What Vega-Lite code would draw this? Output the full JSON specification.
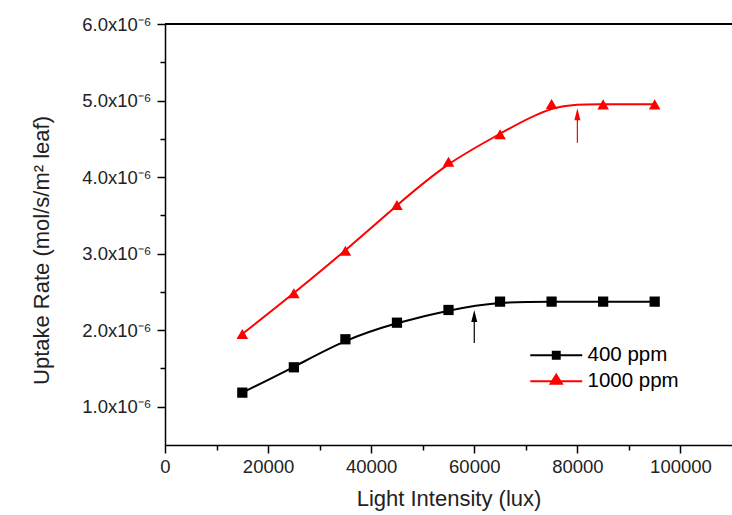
{
  "$schema": "https://vega.github.io/schema/vega-lite/v6.json",
  "width": 567,
  "height": 421,
  "autosize": {"type": "none"},
  "padding": {"left": 165, "top": 24, "right": 0, "bottom": 70},
  "background": "white",
  "config": {"view": {"stroke": null}, "font": "Liberation Sans"},
  "datasets": {
    "uptake": [
      {"light": 15000, "rate": 0.000001184, "series": "400 ppm"},
      {"light": 25000, "rate": 0.000001515, "series": "400 ppm"},
      {"light": 35000, "rate": 0.000001881, "series": "400 ppm"},
      {"light": 45000, "rate": 0.000002098, "series": "400 ppm"},
      {"light": 55000, "rate": 0.000002264, "series": "400 ppm"},
      {"light": 65000, "rate": 0.000002373, "series": "400 ppm"},
      {"light": 75000, "rate": 0.000002373, "series": "400 ppm"},
      {"light": 85000, "rate": 0.000002373, "series": "400 ppm"},
      {"light": 95000, "rate": 0.000002373, "series": "400 ppm"},
      {"light": 15000, "rate": 0.00000195, "series": "1000 ppm"},
      {"light": 25000, "rate": 0.000002482, "series": "1000 ppm"},
      {"light": 35000, "rate": 0.000003038, "series": "1000 ppm"},
      {"light": 45000, "rate": 0.000003636, "series": "1000 ppm"},
      {"light": 55000, "rate": 0.0000042, "series": "1000 ppm"},
      {"light": 65000, "rate": 0.00000456, "series": "1000 ppm"},
      {"light": 75000, "rate": 0.000004955, "series": "1000 ppm"},
      {"light": 85000, "rate": 0.00000495, "series": "1000 ppm"},
      {"light": 95000, "rate": 0.00000495, "series": "1000 ppm"}
    ],
    "arrows": [
      {"light": 60000, "tail": 0.000001833, "head": 0.000002186, "series": "400 ppm"},
      {"light": 80000, "tail": 0.000004449, "head": 0.00000482, "series": "1000 ppm"}
    ]
  },
  "layer": [
    {
      "data": {"name": "uptake"},
      "mark": {"type": "rule", "color": "black", "strokeWidth": 1.2},
      "encoding": {"y": {"datum": 0.000006, "type": "quantitative"}}
    },
    {
      "data": {"name": "uptake"},
      "mark": {"type": "line", "interpolate": "basis", "strokeWidth": 2},
      "encoding": {
        "x": {
          "field": "light", "type": "quantitative",
          "scale": {"domain": [0, 110000], "nice": false, "zero": false},
          "axis": {
            "values": [0, 10000, 20000, 30000, 40000, 50000, 60000, 70000, 80000, 90000, 100000],
            "labelExpr": "datum.value % 20000 == 0 ? datum.value : ''",
            "grid": false,
            "domainColor": "black",
            "domainWidth": 1.5,
            "tickColor": "black",
            "tickWidth": 1.5,
            "tickSize": {"condition": {"test": "datum.value % 20000 == 0", "value": 8}, "value": 5},
            "labelFontSize": 18.5,
            "labelColor": "#222",
            "labelPadding": 4,
            "labelFlush": false,
            "title": "Light Intensity (lux)",
            "titleFontSize": 22,
            "titleFontWeight": "normal",
            "titleColor": "#222",
            "titlePadding": 13
          }
        },
        "y": {
          "field": "rate", "type": "quantitative",
          "scale": {"domain": [0.0000005, 0.000006], "nice": false, "zero": false},
          "axis": {
            "values": [0.000001, 0.0000015, 0.000002, 0.0000025, 0.000003, 0.0000035, 0.000004, 0.0000045, 0.000005, 0.0000055, 0.000006],
            "labelExpr": "abs(datum.value*1e6 - round(datum.value*1e6)) < 0.01 ? format(datum.value*1e6, '.1f') + 'x10⁻⁶' : ''",
            "grid": false,
            "domainColor": "black",
            "domainWidth": 1.5,
            "tickColor": "black",
            "tickWidth": 1.5,
            "tickSize": {"condition": {"test": "abs(datum.value*1e6 - round(datum.value*1e6)) < 0.01", "value": 8}, "value": 5},
            "labelFontSize": 18.5,
            "labelColor": "#222",
            "labelPadding": 6,
            "labelFlush": false,
            "title": "Uptake Rate (mol/s/m² leaf)",
            "titleFontSize": 22,
            "titleFontWeight": "normal",
            "titleColor": "#222",
            "titlePadding": 28,
            "titleY": 226
          }
        },
        "color": {
          "field": "series", "type": "nominal",
          "scale": {"domain": ["400 ppm", "1000 ppm"], "range": ["black", "#ff0000"]},
          "legend": null
        }
      }
    },
    {
      "data": {"name": "uptake"},
      "mark": {"type": "point", "filled": true, "opacity": 1},
      "encoding": {
        "x": {"field": "light", "type": "quantitative"},
        "y": {"field": "rate", "type": "quantitative"},
        "color": {"field": "series", "type": "nominal", "legend": null},
        "shape": {
          "field": "series", "type": "nominal",
          "scale": {"domain": ["400 ppm", "1000 ppm"], "range": ["square", "triangle-up"]},
          "legend": null
        },
        "size": {
          "field": "series", "type": "nominal",
          "scale": {"domain": ["400 ppm", "1000 ppm"], "range": [105, 135]},
          "legend": null
        }
      }
    },
    {
      "data": {"name": "arrows"},
      "mark": {"type": "rule", "strokeWidth": 1.2},
      "encoding": {
        "x": {"field": "light", "type": "quantitative"},
        "y": {"field": "tail", "type": "quantitative"},
        "y2": {"field": "head"},
        "color": {"field": "series", "type": "nominal", "legend": null}
      }
    },
    {
      "data": {"name": "arrows"},
      "mark": {"type": "point", "shape": "M0,-1L0.5,1L-0.5,1Z", "filled": true, "opacity": 1, "size": 144},
      "encoding": {
        "x": {"field": "light", "type": "quantitative"},
        "y": {"field": "head", "type": "quantitative"},
        "color": {"field": "series", "type": "nominal", "legend": null}
      }
    },
    {
      "data": {"name": "uptake"},
      "transform": [{"filter": "datum.series == 'none'"}],
      "mark": {"type": "point", "shape": "M-3,0H3M-0.4,-0.4H0.4V0.4H-0.4Z", "filled": true, "fill": "black", "strokeWidth": 2, "opacity": 1, "size": 300},
      "encoding": {
        "x": {"field": "light", "type": "quantitative"},
        "y": {"field": "rate", "type": "quantitative"},
        "stroke": {
          "field": "series", "type": "nominal",
          "scale": {"domain": ["400 ppm"], "range": ["black"]},
          "legend": {
            "orient": "none",
            "legendX": 381,
            "legendY": 321,
            "title": null,
            "padding": 0,
            "symbolType": "M-3,0H3M-0.4,-0.4H0.4V0.4H-0.4Z",
            "symbolSize": 300,
            "symbolStrokeWidth": 2,
            "symbolOpacity": 1,
            "labelFontSize": 20.5,
            "labelColor": "black",
            "labelOffset": 21
          }
        }
      }
    },
    {
      "data": {"name": "uptake"},
      "transform": [{"filter": "datum.series == 'none'"}],
      "mark": {"type": "point", "shape": "M-3,0H3M0,-0.75L0.65,0.3L-0.65,0.3Z", "filled": true, "stroke": "#ff0000", "strokeWidth": 2, "opacity": 1, "size": 300},
      "encoding": {
        "x": {"field": "light", "type": "quantitative"},
        "y": {"field": "rate", "type": "quantitative"},
        "fill": {
          "field": "series", "type": "nominal",
          "scale": {"domain": ["1000 ppm"], "range": ["#ff0000"]},
          "legend": {
            "orient": "none",
            "legendX": 381,
            "legendY": 347,
            "title": null,
            "padding": 0,
            "symbolType": "M-3,0H3M0,-0.75L0.65,0.3L-0.65,0.3Z",
            "symbolSize": 300,
            "symbolStrokeWidth": 2,
            "symbolStrokeColor": "#ff0000",
            "symbolOpacity": 1,
            "labelFontSize": 20.5,
            "labelColor": "black",
            "labelOffset": 21
          }
        }
      }
    }
  ]
}
